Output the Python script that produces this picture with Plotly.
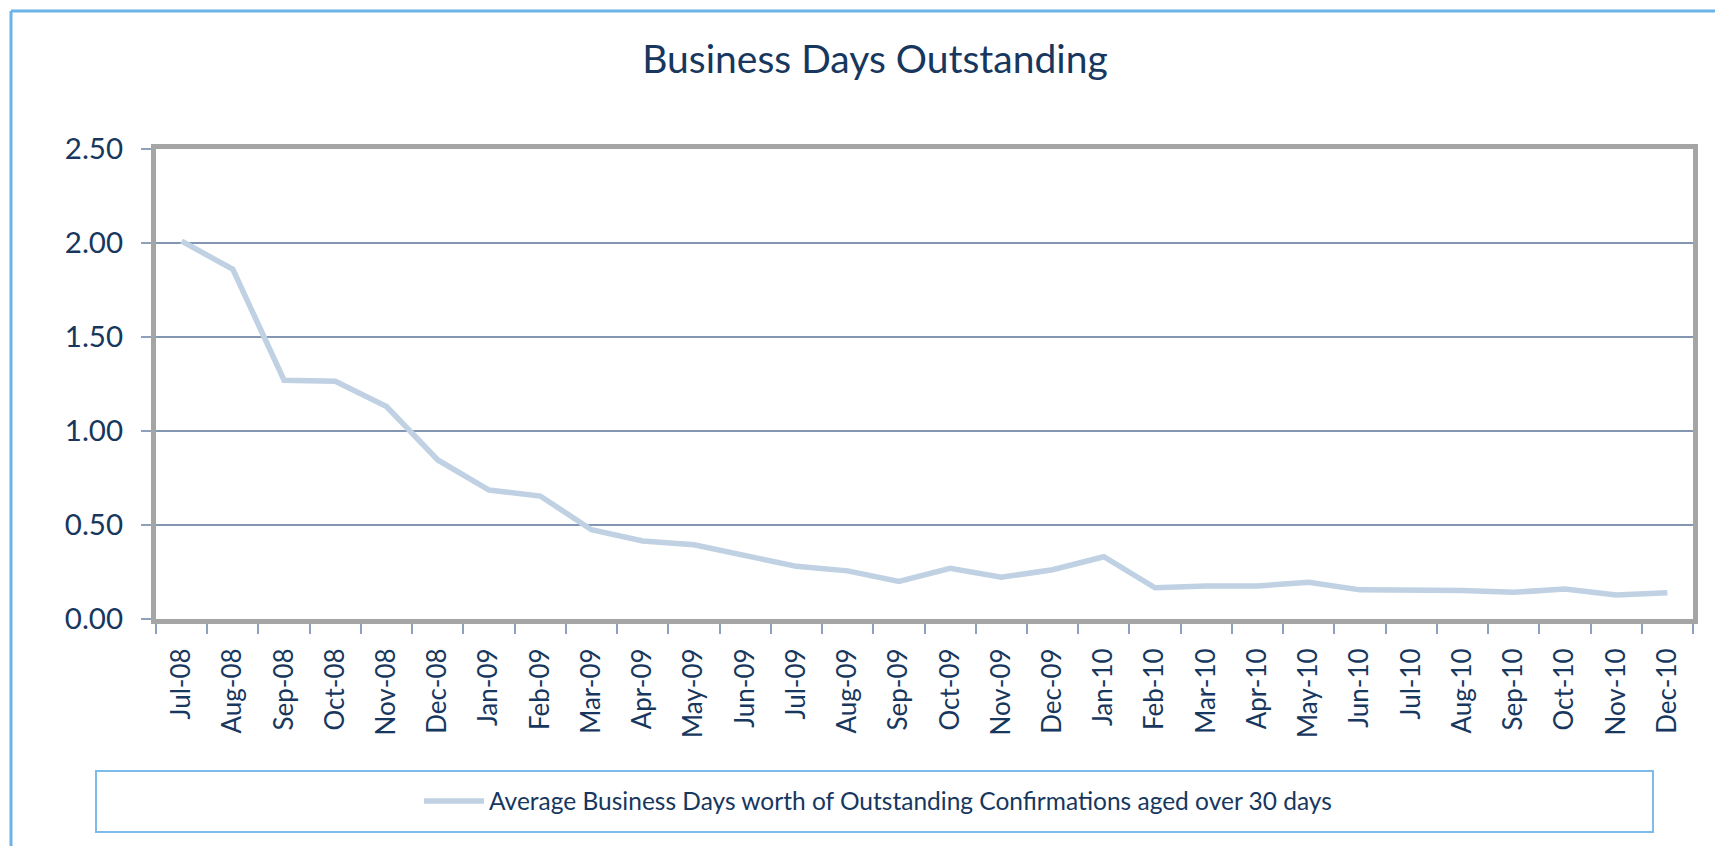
import plotly.graph_objects as go

months = ["Jul-08", "Aug-08", "Sep-08", "Oct-08", "Nov-08", "Dec-08",
          "Jan-09", "Feb-09", "Mar-09", "Apr-09", "May-09", "Jun-09",
          "Jul-09", "Aug-09", "Sep-09", "Oct-09", "Nov-09", "Dec-09",
          "Jan-10", "Feb-10", "Mar-10", "Apr-10", "May-10", "Jun-10",
          "Jul-10", "Aug-10", "Sep-10", "Oct-10", "Nov-10", "Dec-10"]
avg_days = [2.01, 1.86, 1.27, 1.265, 1.13, 0.846,
            0.686, 0.654, 0.475, 0.415, 0.395, 0.34,
            0.28, 0.256, 0.20, 0.27, 0.222, 0.262,
            0.331, 0.166, 0.176, 0.176, 0.195, 0.155,
            0.155, 0.151, 0.142, 0.16, 0.128, 0.14]
series_name = "Average Business Days worth of Outstanding Confirmations aged over 30 days"
y_ticks = [0, 0.5, 1.0, 1.5, 2.0, 2.5]

NAVY = "#17375E"
FONT = "Lato"
OFF = 8  # page body margin
W, H = 1723 - 2 * OFF, 854 - 2 * OFF
L, T = 156 - OFF, 149 - OFF
R = W - (1693 - OFF)
B = H - (619 - OFF)
pw, ph = W - L - R, H - T - B

def px(x):
    return (x - OFF - L) / pw

def py(y):
    return (H - B - (y - OFF)) / ph

fig = go.Figure()
fig.add_trace(go.Scatter(
    x=months, y=avg_days, mode="lines", name=series_name,
    line=dict(color="#BFD1E3", width=5.5),
))

fig.update_layout(
    width=W, height=H,
    margin=dict(l=L, r=R, t=T, b=B, autoexpand=False),
    paper_bgcolor="white", plot_bgcolor="white",
    title=dict(text="Business Days Outstanding", xref="container",
               x=(875 - OFF) / W, xanchor="center",
               y=1 - (59 - OFF) / H, yanchor="middle",
               font=dict(family=FONT, size=39, color=NAVY)),
    showlegend=True,
    legend=dict(orientation="h", x=px(878), xanchor="center",
                y=py(801), yanchor="middle", itemwidth=60,
                font=dict(family=FONT, size=24.5, color=NAVY),
                bgcolor="rgba(0,0,0,0)", borderwidth=0),
    font=dict(family=FONT, color=NAVY),
    shapes=[
        # outer chart border (top and left visible)
        dict(type="line", xref="paper", yref="paper",
             x0=px(11), x1=px(1780), y0=py(11), y1=py(11),
             line=dict(color="#6CB4E8", width=3)),
        dict(type="line", xref="paper", yref="paper",
             x0=px(11), x1=px(11), y0=py(11), y1=py(900),
             line=dict(color="#6CB4E8", width=3)),
        # legend box
        dict(type="rect", xref="paper", yref="paper",
             x0=px(96), x1=px(1653), y0=py(832), y1=py(771),
             line=dict(color="#7DBBEA", width=2)),
    ],
)

fig.update_xaxes(
    type="category", tickson="boundaries", range=[-0.5, len(months) - 0.5],
    ticks="outside", ticklen=10, tickwidth=1.5, tickcolor="#8EA1BA",
    tickangle=-90, tickfont=dict(family=FONT, size=26, color=NAVY),
    ticklabelstandoff=14,
    showline=True, linecolor="#A5A5A5", linewidth=5, mirror=True,
    showgrid=False,
)
fig.update_yaxes(
    range=[0, 2.5], tickvals=y_ticks, tickformat=".2f",
    ticks="outside", ticklen=10, tickwidth=1.5, tickcolor="#8EA1BA",
    tickfont=dict(family=FONT, size=29.5, color=NAVY),
    ticklabelstandoff=12,
    showgrid=True, gridcolor="#8497B0", gridwidth=1.5,
    zeroline=False,
    showline=True, linecolor="#A5A5A5", linewidth=5, mirror=True,
)

fig.write_html("out.html")
